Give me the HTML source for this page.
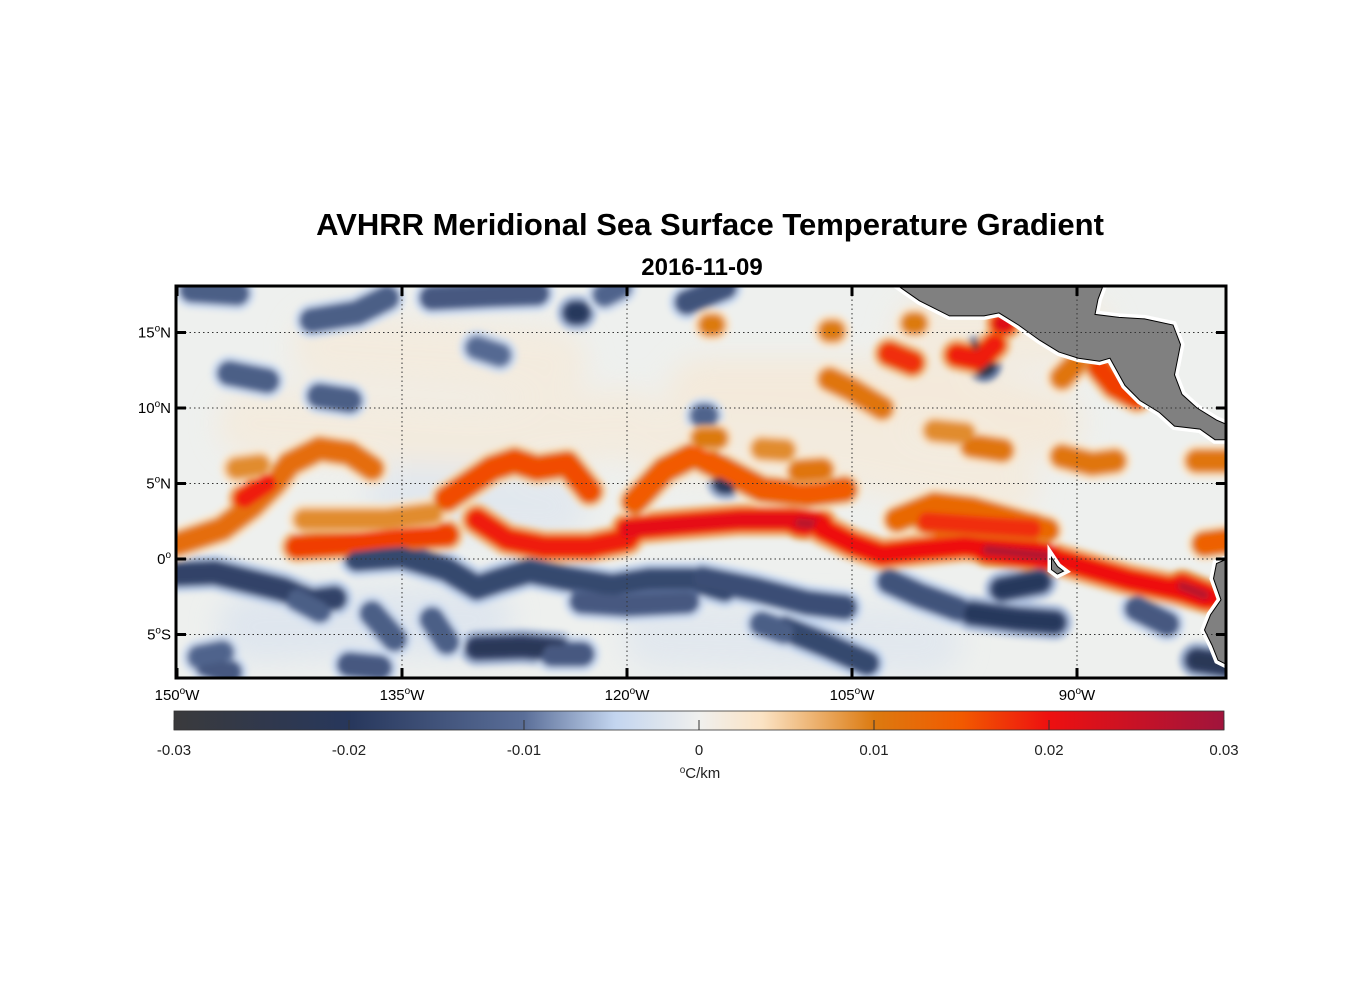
<!DOCTYPE html>
<html><head><meta charset="utf-8"><style>
body{margin:0;background:#fff;}
svg text{font-family:"Liberation Sans",Arial,sans-serif;}
</style></head><body>
<svg id="chart" width="1356" height="1000" viewBox="0 0 1356 1000" xmlns="http://www.w3.org/2000/svg">
<defs>
  <filter id="blur" filterUnits="userSpaceOnUse" x="100" y="200" width="1200" height="560"><feGaussianBlur stdDeviation="3"/></filter>
  <filter id="blurBig" filterUnits="userSpaceOnUse" x="100" y="200" width="1200" height="560"><feGaussianBlur stdDeviation="14"/></filter>
  <clipPath id="mapClip"><rect x="176" y="286" width="1050" height="392"/></clipPath>
  <linearGradient id="cbar" x1="0" x2="1" y1="0" y2="0">
    <stop offset="0" stop-color="#3a3a3c"/>
    <stop offset="0.167" stop-color="#27375c"/>
    <stop offset="0.333" stop-color="#5a6e98"/>
    <stop offset="0.42" stop-color="#c3d5ef"/>
    <stop offset="0.5" stop-color="#f0f0ee"/>
    <stop offset="0.56" stop-color="#fbe3c4"/>
    <stop offset="0.667" stop-color="#dc7a10"/>
    <stop offset="0.75" stop-color="#f25a00"/>
    <stop offset="0.833" stop-color="#ee1010"/>
    <stop offset="1" stop-color="#a0143c"/>
  </linearGradient>
</defs>
<text x="710" y="235" text-anchor="middle" font-size="31" font-weight="bold">AVHRR Meridional Sea Surface Temperature Gradient</text>
<text x="702" y="275" text-anchor="middle" font-size="24" font-weight="bold">2016-11-09</text>
<g id="map" clip-path="url(#mapClip)">
  <rect x="176" y="286" width="1050" height="392" fill="#eef0ee"/>
  <g id="faint" filter="url(#blurBig)" opacity="0.6"></g>
  <g id="fields" filter="url(#blur)"></g>
  <g id="land"></g>
  <g id="grid"></g>
</g>
<rect x="176" y="286" width="1050" height="392" fill="none" stroke="#000" stroke-width="3"/>
<g id="ticks"></g>
<rect x="174" y="711" width="1050" height="19" fill="url(#cbar)" stroke="#333" stroke-width="0.8"/>
<g id="cbticks"></g>
<text x="700" y="778" text-anchor="middle" font-size="15" fill="#222"><tspan font-size="10" dy="-5">o</tspan><tspan dy="5">C/km</tspan></text>
</svg>
<script>
const lonTicks=[-150,-135,-120,-105,-90];
const latTicks=[15,10,5,0,-5];
const cbTickValues=[-0.03,-0.02,-0.01,0,0.01,0.02,0.03];
const cbTickLabels=["-0.03","-0.02","-0.01","0","0.01","0.02","0.03"];

// warm (positive gradient) fronts: [lon,lat] points, value
const warmPaths=[
 [[-150,1],[-147,2],[-145,3.5],[-143.5,5],[-142.5,6.3],[-140.5,7.3],[-138.5,7],[-137,6]],
 [[-145.5,4],[-144,5]],
 [[-142,0.8],[-139,1],[-135.5,1.4],[-132,1.6]],
 [[-141.5,2.6],[-136,2.6],[-133,3]],
 [[-132,4],[-130.5,5],[-129,6],[-127.5,6.5],[-126,6],[-124,6.3],[-122.5,4.5]],
 [[-130,2.6],[-128,1.3],[-125.5,0.8],[-122.5,0.8],[-120,1.3],[-119.5,2]],
 [[-120,2],[-116.5,2.3],[-112.5,2.6],[-109,2.6],[-107,2.3]],
 [[-108.5,2.4],[-107.5,2.3]],
 [[-119.5,3.8],[-117.5,5.9],[-115.5,6.9],[-113.5,5.9],[-111,4.6],[-108,4.3],[-105.5,4.6]],
 [[-107,2],[-105,1],[-103,0.3],[-100.5,0.6],[-97.5,0.9],[-95,0.6],[-92.5,0.3],[-90,-0.4],[-86.5,-1.4],[-83.5,-2],[-81,-2.6]],
 [[-96,0.6],[-92,0.2]],
 [[-83,-1.8],[-81.5,-2.4]],
 [[-102,2.6],[-99.5,3.6],[-97,3.3],[-94.5,2.6],[-92,1.9]],
 [[-100,2.5],[-96,2.2],[-93,2]],
 [[-106.5,11.9],[-105,11.2],[-103,10]],
 [[-102.5,13.6],[-101,13]],
 [[-98,13.5],[-96.5,13.2],[-95.5,14.2]],
 [[-95,15.6],[-94.8,15.6]],
 [[-91,12],[-90,13]],
 [[-88.5,12.7],[-87.5,11.5],[-86,10.7]],
 [[-108.5,5.8],[-107,5.9]],
 [[-97,7.5],[-95,7.2]],
 [[-91,6.8],[-89,6.3],[-87.5,6.5]],
 [[-82,6.5],[-80,6.5]],
 [[-81.5,1],[-80,1.2]],
 [[-114.5,15.5],[-114.2,15.5]],
 [[-106.5,15.1],[-106.2,15.1]],
 [[-101,15.6],[-100.7,15.6]],
 [[-115,8],[-114,8]],
 [[-146,6],[-144.5,6.2]],
 [[-111,7.3],[-109.5,7.2]],
 [[-99.5,8.5],[-97.5,8.3]]
];
const warmValues=[0.012,0.019,0.017,0.009,0.016,0.019,0.021,0.027,0.015,0.02,0.028,0.027,0.013,0.018,0.011,0.018,0.019,0.022,0.011,0.017,0.011,0.011,0.011,0.011,0.014,0.01,0.01,0.01,0.01,0.009,0.009,0.009];

// cold (negative gradient) fronts
const coldPaths=[
 [[-150,-1],[-147.5,-0.9],[-145.5,-1.4],[-143,-2],[-141,-2.8],[-139.5,-2.6]],
 [[-138,0],[-135,0.2],[-132,-0.7],[-130,-1.9],[-128.5,-1.4],[-126.5,-0.8],[-124,-1.3],[-121,-1.8],[-118.5,-1.4],[-115.5,-1.4],[-113.5,-2]],
 [[-123,-2.8],[-120,-3],[-116,-2.8]],
 [[-130,-5.9],[-127,-5.8],[-124.5,-6]],
 [[-142,-2.6],[-140.5,-3.4]],
 [[-137,-3.6],[-135.5,-5.3]],
 [[-133,-4],[-132,-5.5]],
 [[-148,-7],[-146.5,-7.5]],
 [[-138.5,-7],[-136.5,-7.2]],
 [[-125,-6.3],[-123,-6.3]],
 [[-115,-1.3],[-111.5,-2],[-108,-2.9],[-105.5,-3.2]],
 [[-102.5,-1.5],[-100.5,-2.4],[-98,-3.3]],
 [[-97,-3.6],[-94,-4],[-91.5,-4.2]],
 [[-109.5,-4.6],[-106.5,-5.8],[-104,-6.9]],
 [[-95,-2],[-92.5,-1.5]],
 [[-86,-3.3],[-84,-4.3]],
 [[-82,-6.7],[-80,-7]],
 [[-149,17.8],[-146,17.6]],
 [[-141,15.8],[-138,16.3],[-136,17.3]],
 [[-133,17.3],[-129,17.5],[-126,17.6]],
 [[-123.5,16.3],[-123.2,16.3]],
 [[-121.5,17.5],[-120.5,18]],
 [[-116,17],[-113.5,18]],
 [[-146.5,12.3],[-144,11.8]],
 [[-140.5,10.8],[-138.5,10.5]],
 [[-130,14],[-128.5,13.5]],
 [[-115,9.5],[-114.7,9.5]],
 [[-113.5,5.1],[-113.3,5.1]],
 [[-87,11.6],[-86.8,11.6]],
 [[-96.6,13.6],[-96.2,12.9]],
 [[-111,-4.3],[-109.5,-4.8]],
 [[-148.5,-6.5],[-147,-6.2]]
];
const coldValues=[-0.018,-0.017,-0.014,-0.021,-0.013,-0.013,-0.013,-0.014,-0.014,-0.014,-0.016,-0.015,-0.02,-0.017,-0.02,-0.014,-0.022,-0.013,-0.013,-0.014,-0.02,-0.012,-0.015,-0.013,-0.013,-0.011,-0.012,-0.022,-0.02,-0.03,-0.013,-0.012];

// faint background anomalies
const faintPaths=[
 [[-115,11],[-100,11],[-92,9]],
 [[-118,8],[-105,7],[-95,5]],
 [[-145,9],[-130,8],[-120,9]],
 [[-140,14],[-125,13]],
 [[-145,-4.5],[-130,-4]],
 [[-118,-5],[-100,-5.5]],
 [[-100,15],[-90,15]],
 [[-135,4],[-125,3.5]]
];
const faintValues=[0.003,0.0025,0.0025,0.0025,-0.003,-0.0025,0.0025,-0.0025];

const landPaths=[
 [[-101.8,18],[-100.5,17.1],[-98.5,16.1],[-96.2,16.1],[-95.2,16.3],[-93.9,15.5],[-92.5,14.5],[-91.2,13.7],[-89.9,13.3],[-88.5,13.1],[-87.8,13.3],[-86.8,11.5],[-85.8,10.5],[-84.5,9.7],[-83.5,8.8],[-81.8,8.6],[-80.8,7.9],[-80,7.9],[-80,8.9],[-80.7,9.2],[-82,10],[-83,10.9],[-83.5,12.2],[-83.1,14.2],[-83.6,15.5],[-85.5,15.9],[-87.2,16],[-88.8,16.2],[-88.6,17.2],[-88.3,18]],
 [[-80,0],[-80.7,-0.3],[-80.9,-1.3],[-80.4,-2.7],[-81.1,-3.7],[-81.5,-4.7],[-81,-5.7],[-80.6,-6.7],[-80,-7]],
 [[-91.7,0.1],[-91.3,-0.5],[-90.9,-0.8],[-91.3,-1],[-91.7,-0.7]]
];

const X=lon=>177+(lon+150)*15;
const Y=lat=>559-lat*15.1;
const NS="http://www.w3.org/2000/svg";
const stops=[[-0.03,[58,58,60]],[-0.02,[39,55,92]],[-0.01,[90,110,152]],[-0.005,[195,213,239]],[0,[240,240,238]],[0.004,[251,227,196]],[0.01,[220,122,16]],[0.015,[242,90,0]],[0.02,[238,16,16]],[0.03,[160,20,60]]];
function cmap(v){
 v=Math.max(-0.03,Math.min(0.03,v));
 for(let i=0;i<stops.length-1;i++){const a=stops[i],b=stops[i+1];
  if(v<=b[0]){const t=(v-a[0])/(b[0]-a[0]);const c=a[1].map((x,k)=>Math.round(x+(b[1][k]-x)*t));return `rgb(${c})`;}}
 return "rgb(160,20,60)";
}
function ptsStr(p){return p.map(q=>X(q[0]).toFixed(1)+","+Y(q[1]).toFixed(1)).join(" ");}
function drawPath(g,p,v,w,name){
 const el=document.createElementNS(NS,"polyline");
 el.setAttribute("points",ptsStr(p));
 el.setAttribute("fill","none");
 el.setAttribute("stroke",cmap(v));
 el.setAttribute("stroke-width",w);
 el.setAttribute("stroke-linecap","round");
 el.setAttribute("stroke-linejoin","round");
 
 
 g.appendChild(el);
}
const faint=document.getElementById("faint");
faintPaths.forEach((p,i)=>drawPath(faint,p,faintValues[i],70,"faint-anomaly"));
const fields=document.getElementById("fields");
coldPaths.forEach((p,i)=>drawPath(fields,p,coldValues[i]*0.3,36,"cold-front-halo"));
warmPaths.forEach((p,i)=>drawPath(fields,p,warmValues[i]*0.3,34,"warm-front-halo"));
coldPaths.forEach((p,i)=>drawPath(fields,p,coldValues[i]*0.75,26,"cold-front-edge"));
warmPaths.forEach((p,i)=>drawPath(fields,p,warmValues[i]*0.7,26,"warm-front-edge"));
coldPaths.forEach((p,i)=>drawPath(fields,p,coldValues[i],Math.abs(coldValues[i])>0.019?16:18,"cold-front"));
warmPaths.forEach((p,i)=>drawPath(fields,p,warmValues[i],warmValues[i]>0.025?9:18,"warm-front"));

const land=document.getElementById("land");
landPaths.forEach((p,i)=>{
 const halo=document.createElementNS(NS,"polygon");
 halo.setAttribute("points",ptsStr(p));
 halo.setAttribute("fill","#fff");halo.setAttribute("stroke","#fff");halo.setAttribute("stroke-width","8");
 
 
 land.appendChild(halo);
});
landPaths.forEach((p,i)=>{
 const el=document.createElementNS(NS,"polygon");
 el.setAttribute("points",ptsStr(p));
 el.setAttribute("fill","#808080");el.setAttribute("stroke","#000");el.setAttribute("stroke-width","1");
 
 
 land.appendChild(el);
});

const grid=document.getElementById("grid");
const ticks=document.getElementById("ticks");
function line(g,x1,y1,x2,y2,attrs,name){
 const l=document.createElementNS(NS,"line");
 l.setAttribute("x1",x1);l.setAttribute("y1",y1);l.setAttribute("x2",x2);l.setAttribute("y2",y2);
 for(const k in attrs)l.setAttribute(k,attrs[k]);
 
 
 g.appendChild(l);
}
function text(g,x,y,main,anchor,name){
 const t=document.createElementNS(NS,"text");
 t.setAttribute("x",x);t.setAttribute("y",y);t.setAttribute("text-anchor",anchor);t.setAttribute("font-size","15");
 t.innerHTML=main;
 
 
 g.appendChild(t);
}
const dot={stroke:"#333","stroke-width":"1","stroke-dasharray":"1.5,3"};
lonTicks.forEach(lon=>{
 const x=X(lon);
 line(grid,x,286,x,678,dot,"longitude-gridline");
 line(ticks,x,286,x,296,{stroke:"#000","stroke-width":"3"},"x-tick-top");
 line(ticks,x,668,x,678,{stroke:"#000","stroke-width":"3"},"x-tick-bottom");
 text(ticks,x,700,Math.abs(lon)+'<tspan font-size="10" dy="-6">o</tspan><tspan dy="6">W</tspan>',"middle","x-tick-label");
});
latTicks.forEach(lat=>{
 const y=Y(lat);
 line(grid,176,y,1226,y,dot,"latitude-gridline");
 line(ticks,176,y,186,y,{stroke:"#000","stroke-width":"3"},"y-tick-left");
 line(ticks,1216,y,1226,y,{stroke:"#000","stroke-width":"3"},"y-tick-right");
 const suf=lat>0?"N":(lat<0?"S":"");
 text(ticks,171,y+5,Math.abs(lat)+'<tspan font-size="10" dy="-6">o</tspan><tspan dy="6">'+suf+'</tspan>',"end","y-tick-label");
});
const cb=document.getElementById("cbticks");
cbTickValues.forEach((v,i)=>{
 const x=174+(v+0.03)/0.06*1050;
 line(cb,x,720,x,730,{stroke:"#333","stroke-width":"1"},"colorbar-tick");
 const t=document.createElementNS(NS,"text");
 t.setAttribute("x",x);t.setAttribute("y",755);t.setAttribute("text-anchor","middle");t.setAttribute("font-size","15");t.setAttribute("fill","#222");
 t.textContent=cbTickLabels[i];
 
 
 cb.appendChild(t);
});
</script>
</body></html>
